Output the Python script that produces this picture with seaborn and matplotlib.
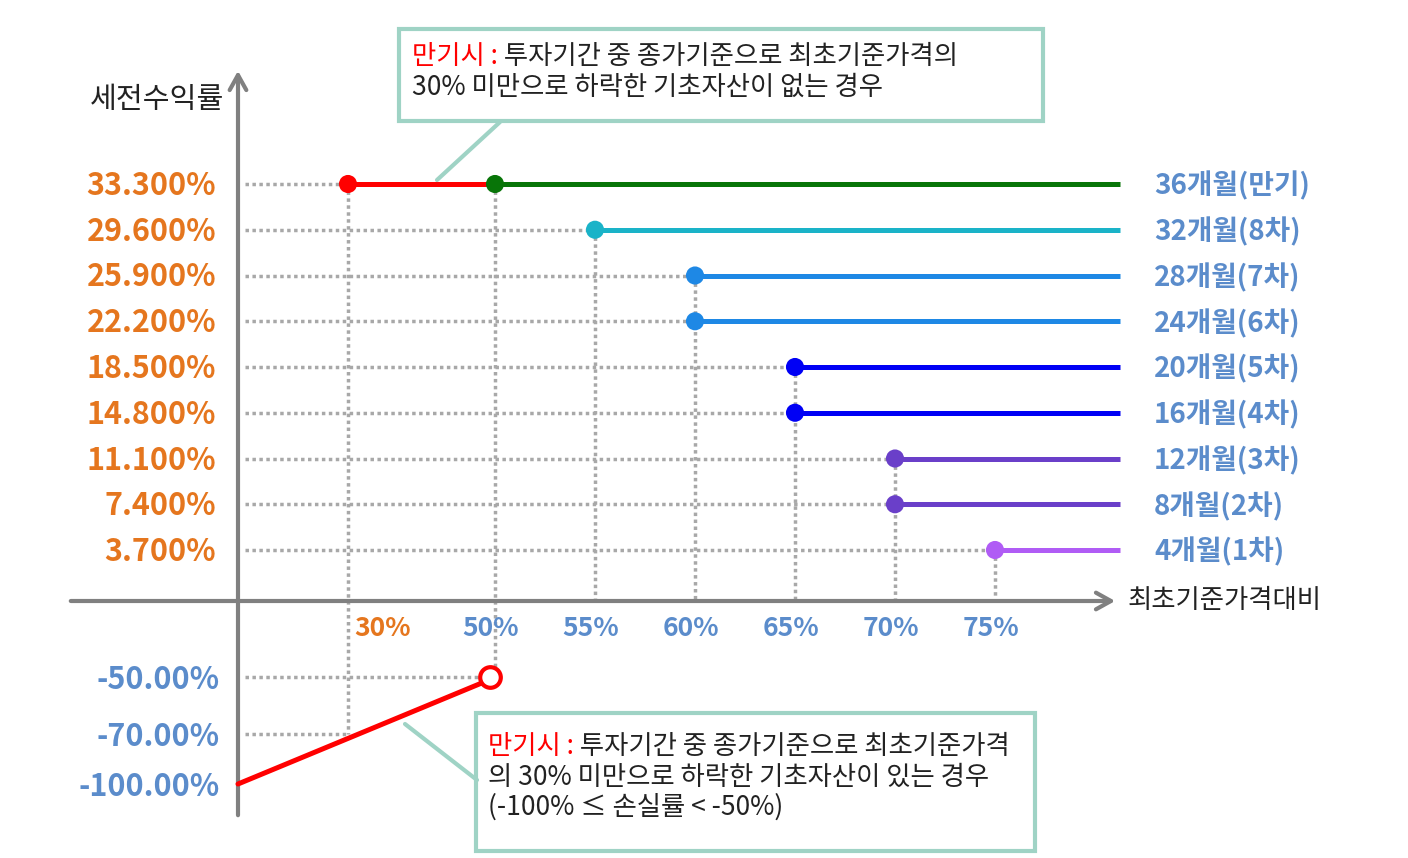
import numpy as np
import pandas as pd
import seaborn as sns
import matplotlib.pyplot as plt

# 데이터
periods = ['4개월(1차)', '8개월(2차)', '12개월(3차)', '16개월(4차)', '20개월(5차)',
           '24개월(6차)', '28개월(7차)', '32개월(8차)', '36개월(만기)']
barriers = [75, 70, 70, 65, 65, 60, 60, 55, 50]
coupons = [3.7, 7.4, 11.1, 14.8, 18.5, 22.2, 25.9, 29.6, 33.3]
line_colors = ['#B05CF5', '#6A3FC9', '#6A3FC9', '#0000F5', '#0000F5',
               '#1E88E5', '#1E88E5', '#1AB3C8', '#087508']
x_ticks = [30, 50, 55, 60, 65, 70, 75]
loss_levels = [-50, -70, -100]
loss_labels = ['-50.00%', '-70.00%', '-100.00%']
ki_barrier = 30

sns.set_theme(style='white')
plt.rcParams['font.family'] = ['Noto Sans CJK KR', 'DejaVu Sans']

ORANGE = '#E5761E'
BLUE = '#5B8CCB'
GRAY = '#808080'
DOT = '#A8A8A8'
BOX = '#9FD3C5'

# 개략도이므로 값 -> 화면 위치 매핑 (비선형)
X0, Y0 = 238, 601


def x_of(b):
    if b == 0:
        return X0
    if b == ki_barrier:
        return 348
    return 495 + (b - 50) * 20


def y_of(v):
    if v >= 0:
        return 550 - coupons.index(v) * 45.75
    return {-50: 677, -70: 734, -100: 784}[v]


df = pd.DataFrame({'period': periods, 'barrier': barriers, 'coupon': coupons})
df['x'] = df['barrier'].map(x_of)
df['y'] = df['coupon'].map(y_of)

fig = plt.figure(figsize=(14.08, 8.58), dpi=100)
ax = fig.add_axes([0, 0, 1, 1])
ax.set_xlim(0, 1408)
ax.set_ylim(858, 0)
ax.axis('off')

dotted = dict(color=DOT, lw=2.5, ls=(0, (1, 1)), zorder=1)

# 점선 가이드
for _, r in df.iterrows():
    x_end = x_of(ki_barrier) if r['coupon'] == max(coupons) else r['x']
    ax.plot([245, x_end], [r['y'], r['y']], **dotted)
for b in sorted(set(barriers)):
    top = df.loc[df['barrier'] == b, 'y'].min()
    bottom = y_of(-50) - 9 if b == 50 else Y0
    ax.plot([x_of(b), x_of(b)], [top, bottom], **dotted)
ax.plot([x_of(ki_barrier)] * 2, [y_of(max(coupons)), y_of(-70)], **dotted)
ax.plot([245, x_of(50) - 9], [y_of(-50)] * 2, **dotted)
ax.plot([245, x_of(ki_barrier)], [y_of(-70)] * 2, **dotted)

# 축
ax.annotate('', xy=(X0, 68), xytext=(X0, 818),
            arrowprops=dict(arrowstyle='->,head_length=0.9,head_width=0.5', color=GRAY, lw=3), zorder=2)
ax.annotate('', xy=(1118, Y0), xytext=(68, Y0),
            arrowprops=dict(arrowstyle='->,head_length=0.9,head_width=0.5', color=GRAY, lw=3), zorder=2)

# 수익 구간 선
for _, r in df.iterrows():
    ax.plot([r['x'], 1120], [r['y'], r['y']], color=line_colors[periods.index(r['period'])],
            lw=3.6, solid_capstyle='butt', zorder=3)
top_y = y_of(max(coupons))
ax.plot([x_of(ki_barrier), x_of(50)], [top_y, top_y], color='#FF0000', lw=3.6, zorder=3)
sns.scatterplot(data=df, x='x', y='y', hue='period', palette=dict(zip(periods, line_colors)),
                s=170, edgecolor='none', legend=False, ax=ax, zorder=5)
ax.scatter([x_of(ki_barrier)], [top_y], s=170, color='#FF0000', edgecolor='none', zorder=5)

# 손실 구간
ax.plot([x_of(0), x_of(50) - 6], [y_of(-100), y_of(-50) + 3], color='#FF0000', lw=3.6, zorder=3)
ax.scatter([x_of(50) - 5], [y_of(-50)], s=220, facecolor='white', edgecolor='#FF0000',
           linewidth=3, zorder=6)

# 축 라벨
ax.text(90, 100, '세전수익률', fontsize=21, color='#222222', va='center', ha='left')
ax.text(1128, Y0, '최초기준가격대비', fontsize=19, color='#222222', va='center', ha='left')
for c in coupons:
    ax.text(216, y_of(c) + 2, f'{c:.3f}%', fontsize=22, fontweight='bold', color=ORANGE,
            ha='right', va='center')
for v, lab in zip(loss_levels, loss_labels):
    ax.text(220, y_of(v) + 3, lab, fontsize=22, fontweight='bold', color=BLUE, ha='right', va='center')
for b in x_ticks:
    xx = x_of(b) + 35 if b == ki_barrier else x_of(b) - 4
    ax.text(xx, 628, f'{b}%', fontsize=19, fontweight='bold',
            color=ORANGE if b == ki_barrier else BLUE, ha='center', va='center')
for _, r in df.iterrows():
    ax.text(1154, r['y'] + 2, r['period'], fontsize=20, fontweight='bold', color=BLUE,
            ha='left', va='center')


# 설명 상자
def note(x0, y0, x1, y1, lines, tx, ty, dy):
    ax.add_patch(plt.Rectangle((x0, y0), x1 - x0, y1 - y0, facecolor='white',
                               edgecolor=BOX, lw=3, zorder=7))
    for i, line in enumerate(lines):
        yy = ty + i * dy
        if i == 0:
            t1 = ax.text(tx, yy, '만기시 :', fontsize=19, color='#FF0000', va='center', ha='left', zorder=8)
            ax.annotate(' ' + line, xy=(1, 0), xycoords=t1, fontsize=19, color='#222222',
                        va='bottom', ha='left', zorder=8)
        else:
            ax.text(tx, yy, line, fontsize=19, color='#222222', va='center', ha='left', zorder=8)


note(399, 29, 1043, 121, ['투자기간 중 종가기준으로 최초기준가격의', '30% 미만으로 하락한 기초자산이 없는 경우'],
     412, 56, 31)
ax.plot([500, 437], [122, 180], color=BOX, lw=3, zorder=7)

note(476, 713, 1035, 851, ['투자기간 중 종가기준으로 최초기준가격',
                           '의 30% 미만으로 하락한 기초자산이 있는 경우',
                           '(-100% ≤ 손실률 < -50%)'],
     488, 747, 30)
ax.plot([405, 477], [724, 780], color=BOX, lw=3, zorder=7)

fig.savefig('out.png', dpi=100)
